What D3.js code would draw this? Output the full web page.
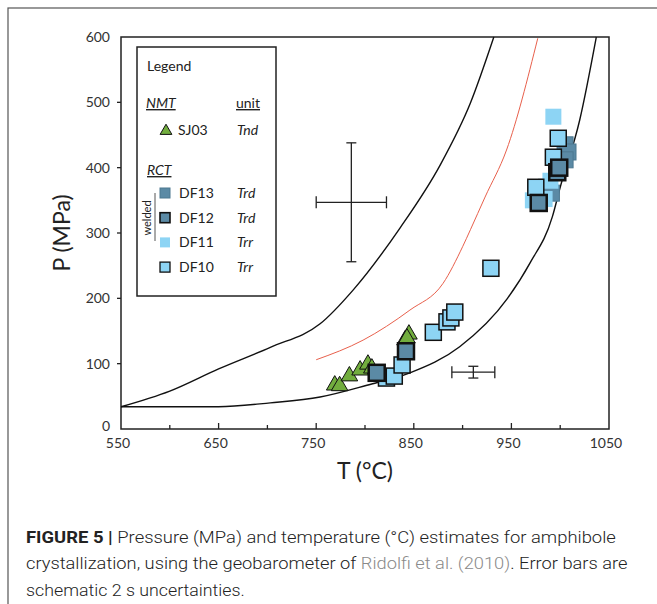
<!DOCTYPE html>
<html lang="en">
<head>
<meta charset="UTF-8">
<title>Figure 5</title>
<script src="https://cdn.jsdelivr.net/npm/d3@7"></script>
<style>
  body { margin: 0; background: #fff; }
  svg { display: block; }
</style>
</head>
<body>
<div id="chart"></div>
<script>
// --- data (T in degC, P in MPa) ---
const xTicks = [550, 650, 750, 850, 950, 1050];
const xMinorTicks = [600, 700, 800, 900, 1000];
const yTicks = [0, 100, 200, 300, 400, 500, 600];

// upper and lower stability curves, plus the red one
const upperCurve = [[550, 34], [600, 58], [650, 92], [703, 125], [754, 161], [788, 213],
                    [836, 308], [877, 404], [908, 499], [932, 600]];
const lowerCurve = [[550, 34], [650, 34], [703, 40], [754, 49], [802, 67], [846, 86],
                    [897, 126], [946, 200], [969, 254], [992, 325], [1000, 370],
                    [1020, 473], [1037, 600]];
const redCurve = [[750, 106], [798, 136], [846, 182], [880, 223], [900, 279], [908, 305],
                  [923, 355], [945, 427], [977, 598]];

const sj03 = [[769, 67], [774, 66], [784, 81], [795, 90], [803, 99], [807, 93],
              [841, 136], [845, 145], [843, 139]];
const df13 = [[986, 370], [982, 366], [991, 361], [1005, 435], [1008, 424], [1005, 412]];
const df11 = [[993, 478], [972, 350], [984, 352], [990, 380]];
const df10 = [[822, 78], [830, 81], [838, 98], [870, 148], [884, 164], [888, 170],
              [892, 179], [929, 246], [975, 370], [993, 416], [998, 445]];
const df12 = [[812, 86], [842, 119], [978, 346], [997, 393], [999, 400]];

// error bars: [T, P, dT, dP]
const errBars = [[786, 347, 36, 91], [911, 87, 22, 9]];

const width = 657, height = 604;
const svg = d3.select("#chart").append("svg")
    .attr("width", width).attr("height", height)
    .style("font-family", "Lato, 'Open Sans', sans-serif");

// outer figure frame
svg.append("rect").attr("x", 8).attr("y", 8).attr("width", 700).attr("height", 700)
    .attr("fill", "none").attr("stroke", "#555").attr("stroke-width", 1.2);

const x = d3.scaleLinear().domain([550, 1050]).range([121, 609]);
const y = d3.scaleLinear().domain([0, 600]).range([429, 37]);

// plot box
svg.append("rect").attr("x", x(550)).attr("y", y(600))
    .attr("width", x(1050) - x(550)).attr("height", y(0) - y(600))
    .attr("fill", "none").attr("stroke", "#222").attr("stroke-width", 1.5);

// x ticks (inside, pointing up)
svg.selectAll(".xt").data(xTicks.slice(1, -1)).enter().append("line")
    .attr("x1", d => x(d)).attr("x2", d => x(d))
    .attr("y1", y(0)).attr("y2", y(0) - 6)
    .attr("stroke", "#222").attr("stroke-width", 1.3);
svg.selectAll(".xm").data(xMinorTicks).enter().append("line")
    .attr("x1", d => x(d)).attr("x2", d => x(d))
    .attr("y1", y(0)).attr("y2", y(0) - 4)
    .attr("stroke", "#222").attr("stroke-width", 1.3);
svg.selectAll(".xl").data(xTicks).enter().append("text")
    .attr("x", d => x(d) - 3).attr("y", y(0) + 19)
    .attr("text-anchor", "middle").attr("font-size", 14).attr("fill", "#333")
    .text(d => d);

// y ticks
svg.selectAll(".yt").data(yTicks.slice(1, -1)).enter().append("line")
    .attr("x1", x(550) - 4).attr("x2", x(550))
    .attr("y1", d => y(d)).attr("y2", d => y(d))
    .attr("stroke", "#222").attr("stroke-width", 1.3);
svg.selectAll(".yl").data(yTicks).enter().append("text")
    .attr("x", 110).attr("y", d => y(d) + (d === 0 ? 2 : 5))
    .attr("text-anchor", "end").attr("font-size", 14).attr("fill", "#333")
    .text(d => d);

// axis titles
svg.append("text").attr("transform", "translate(70,233) rotate(-90)")
    .attr("text-anchor", "middle").attr("font-size", 23).attr("fill", "#222")
    .text("P (MPa)");
svg.append("text").attr("x", 365).attr("y", 479)
    .attr("text-anchor", "middle").attr("font-size", 23).attr("fill", "#222")
    .text("T (°C)");

// curves
const line = d3.line().x(d => x(d[0])).y(d => y(d[1])).curve(d3.curveMonotoneX);
svg.append("path").attr("d", line(upperCurve)).attr("fill", "none")
    .attr("stroke", "#111").attr("stroke-width", 1.4);
svg.append("path").attr("d", line(lowerCurve)).attr("fill", "none")
    .attr("stroke", "#111").attr("stroke-width", 1.4);
svg.append("path").attr("d", line(redCurve)).attr("fill", "none")
    .attr("stroke", "#e8604c").attr("stroke-width", 1);

// error bars
errBars.forEach(([t, p, dt, dp]) => {
    const g = svg.append("g").attr("stroke", "#222").attr("stroke-width", 1.3);
    g.append("line").attr("x1", x(t - dt)).attr("x2", x(t + dt)).attr("y1", y(p)).attr("y2", y(p));
    g.append("line").attr("x1", x(t)).attr("x2", x(t)).attr("y1", y(p - dp)).attr("y2", y(p + dp));
    [t - dt, t + dt].forEach(v => g.append("line").attr("x1", x(v)).attr("x2", x(v))
        .attr("y1", y(p) - 6).attr("y2", y(p) + 6));
    [p - dp, p + dp].forEach(v => g.append("line").attr("x1", x(t) - 5).attr("x2", x(t) + 5)
        .attr("y1", y(v)).attr("y2", y(v)));
});

// markers
const lightBlue = "#8dd4f4", darkBlue = "#5b8aa5", green = "#72ad3e";
const tri = d3.symbol().type(d3.symbolTriangle).size(120);

svg.append("g").selectAll("path").data(sj03).enter().append("path")
    .attr("d", tri).attr("transform", d => `translate(${x(d[0])},${y(d[1])})`)
    .attr("fill", green).attr("stroke", "#111").attr("stroke-width", 1);

function squares(data, fill, stroke, sw, s) {
    svg.append("g").selectAll("rect").data(data).enter().append("rect")
        .attr("x", d => x(d[0]) - s / 2).attr("y", d => y(d[1]) - s / 2)
        .attr("width", s).attr("height", s)
        .attr("fill", fill).attr("stroke", stroke).attr("stroke-width", sw);
}
squares(df13, darkBlue, "#4d7890", 1, 16);
squares(df11, lightBlue, "none", 0, 16);
squares(df10, lightBlue, "#111", 1.5, 16);
squares(df12, darkBlue, "#111", 2.5, 16);

// legend
const lg = svg.append("g");
lg.append("rect").attr("x", 137).attr("y", 47).attr("width", 139).attr("height", 249)
    .attr("fill", "#fff").attr("stroke", "#222").attr("stroke-width", 1.5);
lg.append("text").attr("x", 147).attr("y", 71).attr("font-size", 14).attr("fill", "#222").text("Legend");
lg.append("text").attr("x", 146).attr("y", 108).attr("font-size", 14).attr("fill", "#222")
    .attr("font-style", "italic").attr("text-decoration", "underline").text("NMT");
lg.append("text").attr("x", 236).attr("y", 108).attr("font-size", 14).attr("fill", "#222")
    .attr("text-decoration", "underline").text("unit");
lg.append("path").attr("d", d3.symbol().type(d3.symbolTriangle).size(60))
    .attr("transform", "translate(166,131)")
    .attr("fill", green).attr("stroke", "#111").attr("stroke-width", 1);
lg.append("text").attr("x", 178).attr("y", 135).attr("font-size", 14).attr("fill", "#222").text("SJ03");
lg.append("text").attr("x", 237).attr("y", 135).attr("font-size", 14).attr("fill", "#222")
    .attr("font-style", "italic").text("Tnd");
lg.append("text").attr("x", 147).attr("y", 175).attr("font-size", 14).attr("fill", "#222")
    .attr("font-style", "italic").attr("text-decoration", "underline").text("RCT");

const legendRows = [
    ["DF13", "Trd", darkBlue, "#4d7890", 1],
    ["DF12", "Trd", darkBlue, "#111", 1.6],
    ["DF11", "Trr", lightBlue, "none", 0],
    ["DF10", "Trr", lightBlue, "#111", 1.3]
];
legendRows.forEach(([name, unit, fill, stroke, sw], i) => {
    const cy = 193 + i * 24.7;
    lg.append("rect").attr("x", 160).attr("y", cy - 5).attr("width", 10).attr("height", 10)
        .attr("fill", fill).attr("stroke", stroke).attr("stroke-width", sw);
    lg.append("text").attr("x", 179).attr("y", cy + 5).attr("font-size", 14).attr("fill", "#222").text(name);
    lg.append("text").attr("x", 237).attr("y", cy + 5).attr("font-size", 14).attr("fill", "#222")
        .attr("font-style", "italic").text(unit);
});
lg.append("line").attr("x1", 155).attr("x2", 155).attr("y1", 193).attr("y2", 241)
    .attr("stroke", "#555").attr("stroke-width", 1);
lg.append("text").attr("transform", "translate(151,218) rotate(-90)")
    .attr("text-anchor", "middle").attr("font-size", 11).attr("fill", "#222").text("welded");

// caption
const capLines = [
    [{ t: "FIGURE 5 | ", b: true }, { t: "Pressure (MPa) and temperature (°C) estimates for amphibole" }],
    [{ t: "crystallization, using the geobarometer of " }, { t: "Ridolfi et al. (2010)", c: "#8a8a8a" },
     { t: ". Error bars are" }],
    [{ t: "schematic 2 s uncertainties." }]
];
const capWidths = [590, 602, 219];
const capY = [543, 569, 596];
capLines.forEach((parts, i) => {
    const t = svg.append("text").attr("font-family", "Roboto, sans-serif")
        .attr("font-size", 17).attr("font-weight", 300).attr("fill", "#222");
    parts.forEach(p => t.append("tspan").text(p.t)
        .attr("font-weight", p.b ? "bold" : null)
        .attr("fill", p.c || null));
    const w = t.node().getComputedTextLength();
    t.attr("transform", `translate(26,${capY[i]}) scale(${capWidths[i] / w},1)`);
});
</script>
</body>
</html>
